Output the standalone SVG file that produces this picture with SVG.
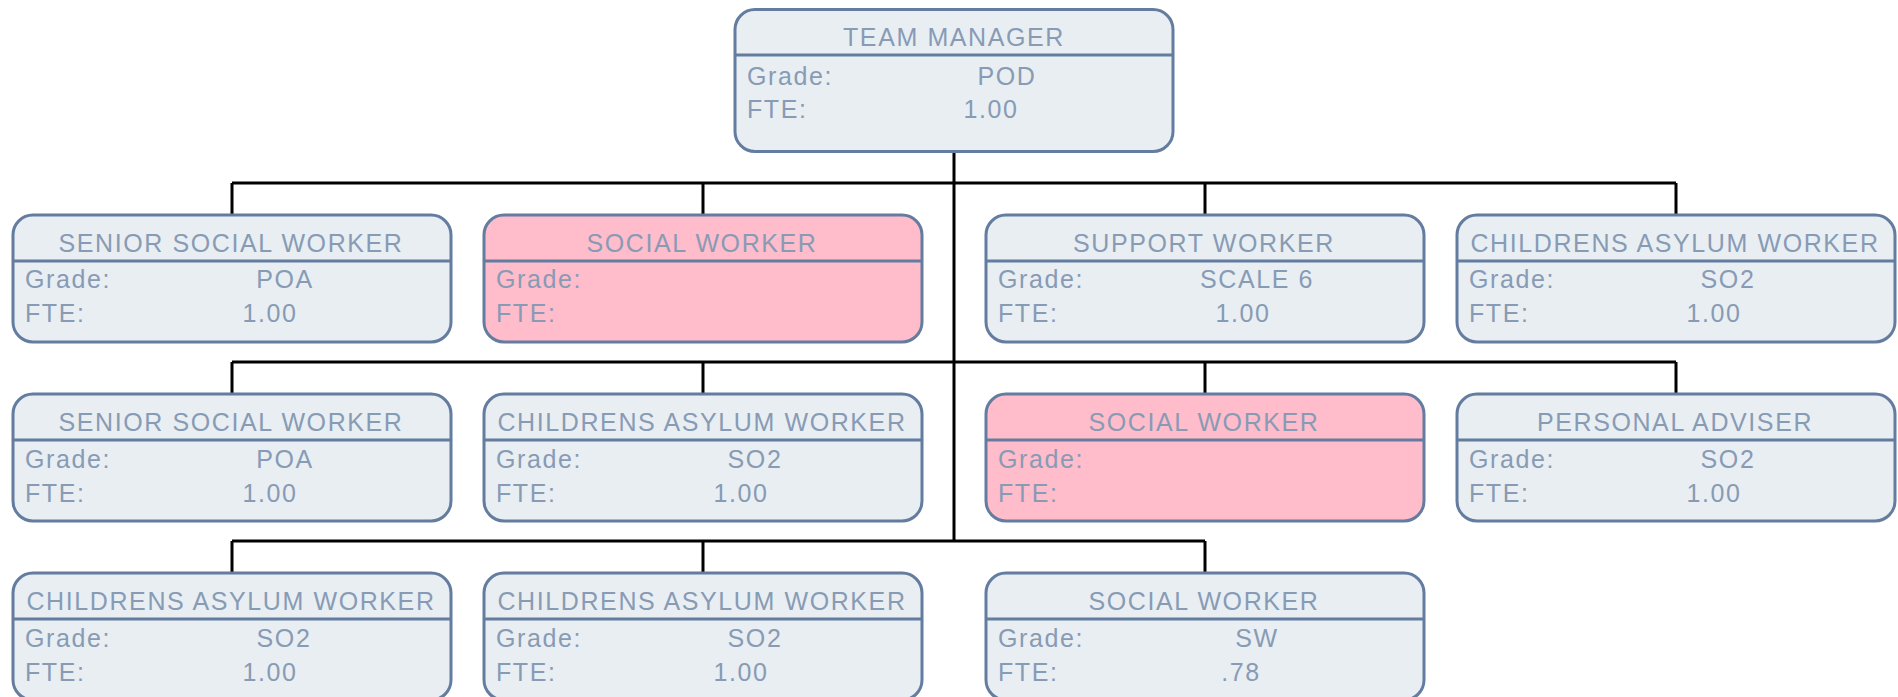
<svg xmlns="http://www.w3.org/2000/svg" width="1898" height="697" viewBox="0 0 1898 697">
<style>
.box{fill:#e9eef2;stroke:#637ca0;stroke-width:3}
.pink{fill:#ffbccb;stroke:#637ca0;stroke-width:3}
.div{stroke:#637ca0;stroke-width:3}
.t{font-family:"Liberation Sans",Arial,sans-serif;font-size:25px;fill:#879bb5;letter-spacing:1.6px}
.m{text-anchor:middle}
.conn{stroke:#000;stroke-width:3;fill:none}
</style>
<rect width="1898" height="697" fill="#fff"/>
<g id="connectors">
<path class="conn" d="M954 153V541"/>
<path class="conn" d="M232 183H1676M232 183V214M703 183V214M1205 183V214M1676 183V214"/>
<path class="conn" d="M232 362H1676M232 362V393M703 362V393M1205 362V393M1676 362V393"/>
<path class="conn" d="M232 541H1205M232 541V572M703 541V572M1205 541V572"/>
</g>
<g id="n0">
<rect class="box" x="735" y="9.5" width="438" height="142" rx="20"/>
<line class="div" x1="735" y1="55" x2="1173" y2="55"/>
<text class="t m" x="954" y="46">TEAM MANAGER</text>
<text class="t" x="747" y="85">Grade:</text>
<text class="t m" x="1007" y="85">POD</text>
<text class="t" x="747" y="118">FTE:</text>
<text class="t m" x="991" y="118">1.00</text>
</g>
<g id="n1">
<rect class="box" x="13" y="215" width="438" height="127" rx="20"/>
<line class="div" x1="13" y1="261" x2="451" y2="261"/>
<text class="t m" x="231" y="252">SENIOR SOCIAL WORKER</text>
<text class="t" x="25" y="288">Grade:</text>
<text class="t m" x="285" y="288">POA</text>
<text class="t" x="25" y="322">FTE:</text>
<text class="t m" x="270" y="322">1.00</text>
</g>
<g id="n2">
<rect class="pink" x="484" y="215" width="438" height="127" rx="20"/>
<line class="div" x1="484" y1="261" x2="922" y2="261"/>
<text class="t m" x="702" y="252">SOCIAL WORKER</text>
<text class="t" x="496" y="288">Grade:</text>
<text class="t" x="496" y="322">FTE:</text>
</g>
<g id="n3">
<rect class="box" x="986" y="215" width="438" height="127" rx="20"/>
<line class="div" x1="986" y1="261" x2="1424" y2="261"/>
<text class="t m" x="1204" y="252">SUPPORT WORKER</text>
<text class="t" x="998" y="288">Grade:</text>
<text class="t m" x="1257" y="288">SCALE 6</text>
<text class="t" x="998" y="322">FTE:</text>
<text class="t m" x="1243" y="322">1.00</text>
</g>
<g id="n4">
<rect class="box" x="1457" y="215" width="438" height="127" rx="20"/>
<line class="div" x1="1457" y1="261" x2="1895" y2="261"/>
<text class="t m" x="1675" y="252">CHILDRENS ASYLUM WORKER</text>
<text class="t" x="1469" y="288">Grade:</text>
<text class="t m" x="1728" y="288">SO2</text>
<text class="t" x="1469" y="322">FTE:</text>
<text class="t m" x="1714" y="322">1.00</text>
</g>
<g id="n5">
<rect class="box" x="13" y="394" width="438" height="127" rx="20"/>
<line class="div" x1="13" y1="440" x2="451" y2="440"/>
<text class="t m" x="231" y="431">SENIOR SOCIAL WORKER</text>
<text class="t" x="25" y="468">Grade:</text>
<text class="t m" x="285" y="468">POA</text>
<text class="t" x="25" y="502">FTE:</text>
<text class="t m" x="270" y="502">1.00</text>
</g>
<g id="n6">
<rect class="box" x="484" y="394" width="438" height="127" rx="20"/>
<line class="div" x1="484" y1="440" x2="922" y2="440"/>
<text class="t m" x="702" y="431">CHILDRENS ASYLUM WORKER</text>
<text class="t" x="496" y="468">Grade:</text>
<text class="t m" x="755" y="468">SO2</text>
<text class="t" x="496" y="502">FTE:</text>
<text class="t m" x="741" y="502">1.00</text>
</g>
<g id="n7">
<rect class="pink" x="986" y="394" width="438" height="127" rx="20"/>
<line class="div" x1="986" y1="440" x2="1424" y2="440"/>
<text class="t m" x="1204" y="431">SOCIAL WORKER</text>
<text class="t" x="998" y="468">Grade:</text>
<text class="t" x="998" y="502">FTE:</text>
</g>
<g id="n8">
<rect class="box" x="1457" y="394" width="438" height="127" rx="20"/>
<line class="div" x1="1457" y1="440" x2="1895" y2="440"/>
<text class="t m" x="1675" y="431">PERSONAL ADVISER</text>
<text class="t" x="1469" y="468">Grade:</text>
<text class="t m" x="1728" y="468">SO2</text>
<text class="t" x="1469" y="502">FTE:</text>
<text class="t m" x="1714" y="502">1.00</text>
</g>
<g id="n9">
<rect class="box" x="13" y="573" width="438" height="127" rx="20"/>
<line class="div" x1="13" y1="619" x2="451" y2="619"/>
<text class="t m" x="231" y="610">CHILDRENS ASYLUM WORKER</text>
<text class="t" x="25" y="647">Grade:</text>
<text class="t m" x="284" y="647">SO2</text>
<text class="t" x="25" y="681">FTE:</text>
<text class="t m" x="270" y="681">1.00</text>
</g>
<g id="n10">
<rect class="box" x="484" y="573" width="438" height="127" rx="20"/>
<line class="div" x1="484" y1="619" x2="922" y2="619"/>
<text class="t m" x="702" y="610">CHILDRENS ASYLUM WORKER</text>
<text class="t" x="496" y="647">Grade:</text>
<text class="t m" x="755" y="647">SO2</text>
<text class="t" x="496" y="681">FTE:</text>
<text class="t m" x="741" y="681">1.00</text>
</g>
<g id="n11">
<rect class="box" x="986" y="573" width="438" height="127" rx="20"/>
<line class="div" x1="986" y1="619" x2="1424" y2="619"/>
<text class="t m" x="1204" y="610">SOCIAL WORKER</text>
<text class="t" x="998" y="647">Grade:</text>
<text class="t m" x="1257" y="647">SW</text>
<text class="t" x="998" y="681">FTE:</text>
<text class="t m" x="1241" y="681">.78</text>
</g>
</svg>
